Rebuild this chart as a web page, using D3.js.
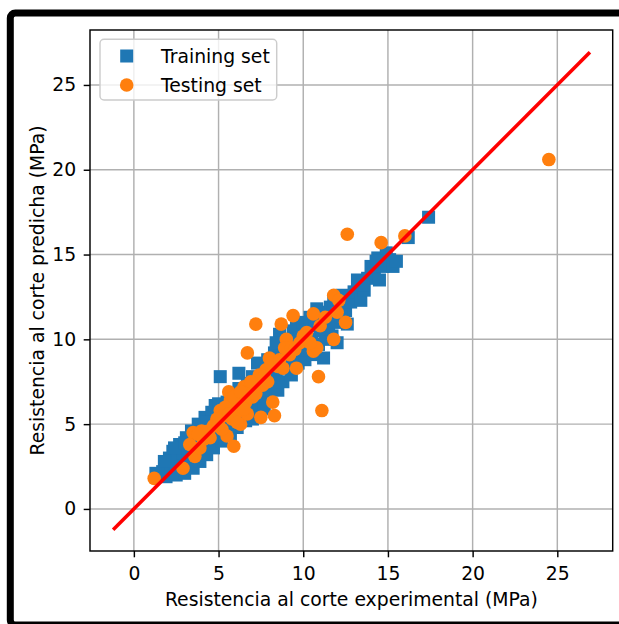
<!DOCTYPE html>
<html><head><meta charset="utf-8">
<script src="https://cdn.jsdelivr.net/npm/d3@7"></script>
<style>body{margin:0;background:#fff} svg{display:block} text{font-family:"DejaVu Sans",sans-serif;fill:#000}</style>
</head><body><svg id="c" width="619" height="624"></svg>
<script>
const xTicks=[0,5,10,15,20,25];
const yTicks=[0,5,10,15,20,25];
const xLabel="Resistencia al corte experimental (MPa)";
const yLabel="Resistencia al corte predicha (MPa)";
const legendLabels=["Training set","Testing set"];
const seriesColors=["#1f77b4","#ff7f0e"];
const idealLine=[-1.15,26.85];

const trainExp=[1.3,1.7,1.9,2.0,2.1,2.2,2.3,2.4,2.5,2.6,
2.7,2.8,2.9,3.0,3.1,3.2,3.3,3.4,3.5,3.6,
3.7,3.8,3.9,4.0,4.1,4.2,4.3,4.4,4.5,4.6,
4.7,4.8,4.9,5.0,5.1,5.2,5.3,5.4,5.5,5.6,
5.7,5.8,5.9,6.0,6.1,6.2,6.3,6.4,6.5,6.6,
6.7,6.8,6.9,7.0,7.1,7.2,7.3,7.4,7.5,7.6,
7.7,7.8,7.9,8.0,8.1,8.2,8.3,8.4,8.5,8.6,
8.7,8.8,8.9,9.0,9.1,9.2,9.3,9.4,9.5,9.6,
9.7,9.8,9.9,10.0,10.1,10.2,10.3,10.4,10.5,10.6,
10.7,10.8,10.9,11.0,11.1,11.2,11.3,11.4,11.5,11.6,
11.7,11.8,11.9,12.0,12.1,12.3,12.5,12.6,12.8,13.0,
13.2,13.4,13.6,13.8,14.0,14.2,14.4,14.5,14.7,14.9,
15.1,15.3,15.5,16.2,17.4,
1.8,2.4,3.0,3.4,4.0,4.3,4.6,5.0,5.4,5.8,
6.2,6.6,7.0,7.6,8.0,8.4,8.8,9.2,9.6,10.0,
11.0,12.0,12.2,13.5,14.3];
const trainPred=[2.1,2.2,1.9,2.6,3.0,2.2,3.4,2.7,2.0,3.1,
3.8,2.5,3.3,2.1,4.2,2.8,3.6,4.6,2.4,3.2,
4.0,5.0,2.8,3.5,4.4,5.4,3.2,3.9,4.8,5.7,
3.6,6.1,4.3,5.2,7.8,4.0,5.9,4.6,6.3,5.0,
4.4,6.0,5.4,6.7,4.8,8.0,5.6,7.0,6.2,5.2,
7.4,6.5,5.8,7.8,6.9,6.1,8.6,7.3,6.6,8.1,
5.9,7.6,8.8,6.9,8.3,7.4,9.2,8.0,7.0,10.3,
8.7,7.5,9.6,8.3,10.0,9.0,7.9,10.5,9.4,10.8,
8.6,10.1,9.2,11.0,8.8,10.3,9.6,11.3,10.0,9.1,
10.8,11.8,9.7,10.5,11.2,8.9,10.0,11.5,10.6,11.9,
10.2,12.3,11.0,9.8,11.6,12.6,11.7,10.9,12.2,12.8,
13.5,12.3,12.9,13.6,14.3,13.9,14.8,13.5,14.3,15.1,
14.7,14.3,14.6,16.0,17.2,
2.8,3.6,3.9,2.9,4.8,5.1,4.2,6.2,5.4,4.9,
7.1,6.0,5.3,7.0,8.0,9.8,9.0,8.4,9.9,9.4,
11.6,12.4,11.3,13.2,14.6];

const testExp=[1.2,2.9,3.6,3.5,3.9,4.1,4.7,5.1,5.5,5.7,
5.8,5.9,6.3,6.5,6.7,7.0,7.5,8.2,8.3,6.7,
7.2,8.0,8.7,9.0,9.4,9.6,10.6,10.6,10.9,11.1,
11.8,10.8,11.0,11.8,12.0,12.5,12.6,14.6,16.0,24.5,
4.4,5.3,6.0,6.2,6.8,7.3,7.6,7.8,8.5,9.2,
9.8,6.4,5.6,4.9,3.3,8.9,10.2,7.4,6.1,5.2,
5.0,5.4,5.9,6.3,6.6,7.1,7.7,8.1,8.6,9.3,
4.5,4.0,3.8,6.9,7.9,6.5,5.6,6.1,7.2,8.8,
9.5,10.0,10.4,11.3,12.1];
const testPred=[1.8,2.4,3.1,4.5,3.6,4.1,4.9,5.8,4.3,6.4,
5.3,3.7,5.0,7.2,5.6,6.6,5.4,6.3,5.5,9.2,
10.9,8.9,10.9,10.0,11.4,8.3,9.3,11.5,7.8,5.8,
10.0,9.5,10.8,12.6,11.6,11.0,16.2,15.7,16.1,20.6,
4.6,5.5,6.1,5.8,7.0,7.6,7.3,8.2,8.4,9.1,
9.8,6.6,6.9,5.3,3.8,9.5,10.4,7.9,6.4,4.7,
5.0,6.0,6.6,6.9,6.3,7.2,7.8,8.6,8.8,9.5,
4.2,4.6,4.4,7.5,7.5,5.9,5.6,5.1,6.8,8.3,
9.4,10.2,9.8,11.3,12.3];

const svg=d3.select("#c");
const L=90,R=612.7,T=30,B=551;
const x=d3.scaleLinear().domain([-2.59,28.27]).range([L,R]);
const y=d3.scaleLinear().domain([-2.48,28.24]).range([B,T]);
const FS=18.8;

// outer frame
svg.append("rect").attr("x",10.3).attr("y",13).attr("width",700).attr("height",612)
  .attr("rx",5).attr("fill","none").attr("stroke","#000").attr("stroke-width",7);

// grid
const g=svg.append("g");
g.selectAll("line.gx").data(xTicks).join("line").attr("class","gx")
  .attr("x1",d=>x(d)).attr("x2",d=>x(d)).attr("y1",T).attr("y2",B)
  .attr("stroke","#b0b0b0").attr("stroke-width",1.45);
g.selectAll("line.gy").data(yTicks).join("line").attr("class","gy")
  .attr("y1",d=>y(d)).attr("y2",d=>y(d)).attr("x1",L).attr("x2",R)
  .attr("stroke","#b0b0b0").attr("stroke-width",1.45);

// data
svg.append("clipPath").attr("id","clp").append("rect").attr("x",L).attr("y",T).attr("width",R-L).attr("height",B-T);
const plot=svg.append("g").attr("clip-path","url(#clp)");
const sq=13;
plot.append("g").selectAll("rect").data(trainExp.map((v,i)=>[v,trainPred[i]])).join("rect")
  .attr("x",d=>x(d[0])-sq/2).attr("y",d=>y(d[1])-sq/2).attr("width",sq).attr("height",sq)
  .attr("fill",seriesColors[0]);
plot.append("g").selectAll("circle").data(testExp.map((v,i)=>[v,testPred[i]])).join("circle")
  .attr("cx",d=>x(d[0])).attr("cy",d=>y(d[1])).attr("r",6.8)
  .attr("fill",seriesColors[1]);
plot.append("line").attr("x1",x(idealLine[0])).attr("y1",y(idealLine[0]))
  .attr("x2",x(idealLine[1])).attr("y2",y(idealLine[1]))
  .attr("stroke","#ff0000").attr("stroke-width",3.6).attr("stroke-linecap","square");

// axes
const xa=svg.append("g").attr("transform",`translate(0,${B})`)
  .call(d3.axisBottom(x).tickValues(xTicks).tickFormat(d3.format("d")).tickSize(6.3).tickPadding(9).tickSizeOuter(0));
const ya=svg.append("g").attr("transform",`translate(${L},0)`)
  .call(d3.axisLeft(y).tickValues(yTicks).tickFormat(d3.format("d")).tickSize(6.3).tickPadding(7.5).tickSizeOuter(0));
[xa,ya].forEach(a=>{
  a.select(".domain").remove();
  a.selectAll(".tick line").attr("stroke","#000").attr("stroke-width",1.45);
  a.selectAll(".tick text").attr("font-size",FS).attr("font-family","DejaVu Sans").attr("fill","#000");
});
// spines
svg.append("rect").attr("x",L).attr("y",T).attr("width",R-L).attr("height",B-T)
  .attr("fill","none").attr("stroke","#000").attr("stroke-width",1.45);

// labels
svg.append("text").attr("x",(L+R)/2).attr("y",606).attr("text-anchor","middle")
  .attr("font-size",FS).text(xLabel);
svg.append("text").attr("transform",`translate(44,${(T+B)/2}) rotate(-90)`).attr("text-anchor","middle")
  .attr("font-size",FS).text(yLabel);

// legend
const lg=svg.append("g");
lg.append("rect").attr("x",100).attr("y",39.3).attr("width",176.7).attr("height",60.7).attr("rx",4)
  .attr("fill","#fff").attr("fill-opacity",0.8).attr("stroke","#cccccc").attr("stroke-width",1.45);
const ly=[56,85];
lg.append("rect").attr("x",126.7-sq/2).attr("y",ly[0]-sq/2).attr("width",sq).attr("height",sq).attr("fill",seriesColors[0]);
lg.append("circle").attr("cx",126.7).attr("cy",ly[1]).attr("r",6.8).attr("fill",seriesColors[1]);
lg.selectAll("text").data(legendLabels).join("text").attr("x",161).attr("y",(d,i)=>ly[i]+6.7)
  .attr("font-size",FS).text(d=>d);
</script></body></html>
